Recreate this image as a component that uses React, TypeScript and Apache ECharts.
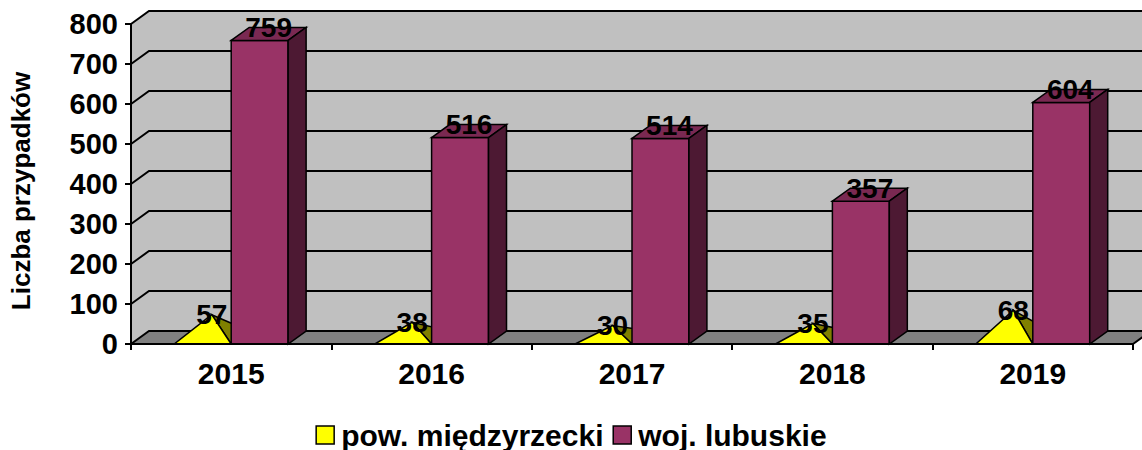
import React, { useEffect, useRef } from "react";
import * as echarts from "echarts";

const categories = ["2015", "2016", "2017", "2018", "2019"];
const powName = "pow. międzyrzecki";
const wojName = "woj. lubuskie";
const powValues = [57, 38, 30, 35, 68];
const wojValues = [759, 516, 514, 357, 604];
const yTickValues = [0, 100, 200, 300, 400, 500, 600, 700, 800];
const yTitle = "Liczba przypadków";

const DX = 18;
const DY = -13;
const BAR_RATIO = 0.284;
const FONT = '"Liberation Sans", Arial, sans-serif';

export default function App() {
  const ref = useRef<HTMLDivElement>(null);

  useEffect(() => {
    if (!ref.current) return;
    const chart = echarts.init(ref.current, null, { renderer: "svg" });

    const renderBackground = (params: any, api: any) => {
      const cs = params.coordSys;
      const x0 = cs.x;
      const x1 = cs.x + cs.width;
      const yTop = api.coord([0, yTickValues[yTickValues.length - 1]])[1];
      const yBase = api.coord([0, 0])[1];
      const children: any[] = [];
      children.push({
        type: "polygon",
        shape: { points: [[x0, yTop], [x0 + DX, yTop + DY], [x0 + DX, yBase + DY], [x0, yBase]] },
        style: { fill: "#C0C0C0", stroke: "none" },
      });
      children.push({
        type: "rect",
        shape: { x: x0 + DX, y: yTop + DY, width: x1 - x0 + 10, height: yBase - yTop },
        style: { fill: "#C0C0C0", stroke: "none" },
      });
      children.push({
        type: "polygon",
        shape: { points: [[x0, yBase], [x0 + DX, yBase + DY], [x1 + DX, yBase + DY], [x1, yBase]] },
        style: { fill: "#808080", stroke: "none" },
      });
      yTickValues.forEach((v) => {
        const y = api.coord([0, v])[1];
        children.push({
          type: "polyline",
          shape: { points: [[x0, y], [x0 + DX, y + DY], [x1 + DX + 10, y + DY]] },
          style: { stroke: "#000", lineWidth: 2, fill: "none" },
        });
      });
      children.push({
        type: "line",
        shape: { x1: x1, y1: yBase, x2: x1 + DX, y2: yBase + DY },
        style: { stroke: "#000", lineWidth: 2 },
      });
      return { type: "group", children };
    };

    const labelStyle = (v: number) => ({
      text: String(v),
      fill: "#000",
      fontSize: 28,
      fontWeight: "bold",
      fontFamily: FONT,
      align: "center",
      verticalAlign: "middle",
    });

    const renderPyramid = (params: any, api: any) => {
      const i = api.value(0);
      const v = api.value(1);
      const [cx, base] = api.coord([i, 0]);
      const top = api.coord([i, v])[1];
      const w = api.size([1, 0])[0] * BAR_RATIO;
      const ax = cx - w / 2 + DX / 2;
      const ay = top + DY / 2;
      return {
        type: "group",
        children: [
          {
            type: "polygon",
            shape: { points: [[cx, base], [cx + DX, base + DY], [ax, ay]] },
            style: { fill: "#808000", stroke: "#000", lineWidth: 1.5 },
          },
          {
            type: "polygon",
            shape: { points: [[cx - w, base], [cx, base], [ax, ay]] },
            style: { fill: "#FFFF00", stroke: "#000", lineWidth: 1.5 },
          },
          { type: "text", x: ax, y: ay, z2: 100, style: labelStyle(v) },
        ],
      };
    };

    const renderBar = (params: any, api: any) => {
      const i = api.value(0);
      const v = api.value(1);
      const [cx, base] = api.coord([i, 0]);
      const top = api.coord([i, v])[1];
      const w = api.size([1, 0])[0] * BAR_RATIO;
      const l = cx;
      const r = cx + w;
      return {
        type: "group",
        children: [
          {
            type: "polygon",
            shape: { points: [[l, base], [r, base], [r, top], [l, top]] },
            style: { fill: "#993366", stroke: "#000", lineWidth: 1.5 },
          },
          {
            type: "polygon",
            shape: { points: [[l, top], [l + DX, top + DY], [r + DX, top + DY], [r, top]] },
            style: { fill: "#7A2952", stroke: "#000", lineWidth: 1.5 },
          },
          {
            type: "polygon",
            shape: { points: [[r, top], [r + DX, top + DY], [r + DX, base + DY], [r, base]] },
            style: { fill: "#4D1933", stroke: "#000", lineWidth: 1.5 },
          },
          { type: "text", x: cx + w / 2 + DX / 2, y: top + DY, z2: 100, style: labelStyle(v) },
        ],
      };
    };

    chart.setOption({
      animation: false,
      grid: { left: 130, right: 9, top: 24, bottom: 106, containLabel: false },
      legend: {
        data: [powName, wojName],
        left: "center",
        top: 420,
        icon: "rect",
        itemWidth: 18,
        itemHeight: 18,
        itemGap: 9,
        padding: 0,
        itemStyle: { borderColor: "#000", borderWidth: 1.5 },
        textStyle: { fontSize: 30, lineHeight: 30, fontWeight: "bold", fontFamily: FONT, color: "#000", padding: [0, 0, 0, 2] },
      },
      xAxis: {
        type: "category",
        data: categories,
        boundaryGap: true,
        axisLine: { lineStyle: { color: "#000", width: 2 } },
        axisTick: { show: true, length: 6, lineStyle: { color: "#000", width: 2 } },
        axisLabel: { fontSize: 30, fontWeight: "bold", fontFamily: FONT, color: "#000", margin: 14 },
        splitLine: { show: false },
        z: 10,
      },
      yAxis: {
        type: "value",
        min: 0,
        max: 800,
        interval: 100,
        name: yTitle,
        nameLocation: "middle",
        nameRotate: 90,
        nameGap: 97,
        nameTextStyle: { fontSize: 26, fontWeight: "bold", fontFamily: FONT, color: "#000", padding: [0, 14, 0, 0] },
        axisLine: { show: true, lineStyle: { color: "#000", width: 2 } },
        axisTick: { show: true, length: 6, lineStyle: { color: "#000", width: 2 } },
        axisLabel: { fontSize: 29, fontWeight: "bold", fontFamily: FONT, color: "#000", margin: 13 },
        splitLine: { show: false },
        z: 10,
      },
      series: [
        {
          type: "custom",
          name: "background",
          silent: true,
          renderItem: renderBackground,
          data: [[0, 0]],
          z: 1,
        },
        {
          type: "custom",
          name: powName,
          renderItem: renderPyramid,
          itemStyle: { color: "#FFFF00" },
          data: powValues.map((v, i) => [i, v]),
          z: 2,
        },
        {
          type: "custom",
          name: wojName,
          renderItem: renderBar,
          itemStyle: { color: "#993366" },
          data: wojValues.map((v, i) => [i, v]),
          z: 3,
        },
      ],
    });

    return () => chart.dispose();
  }, []);

  return (
    <div
      ref={ref}
      style={{ position: "fixed", left: 0, top: 0, width: 1142, height: 450, background: "#fff" }}
    />
  );
}
